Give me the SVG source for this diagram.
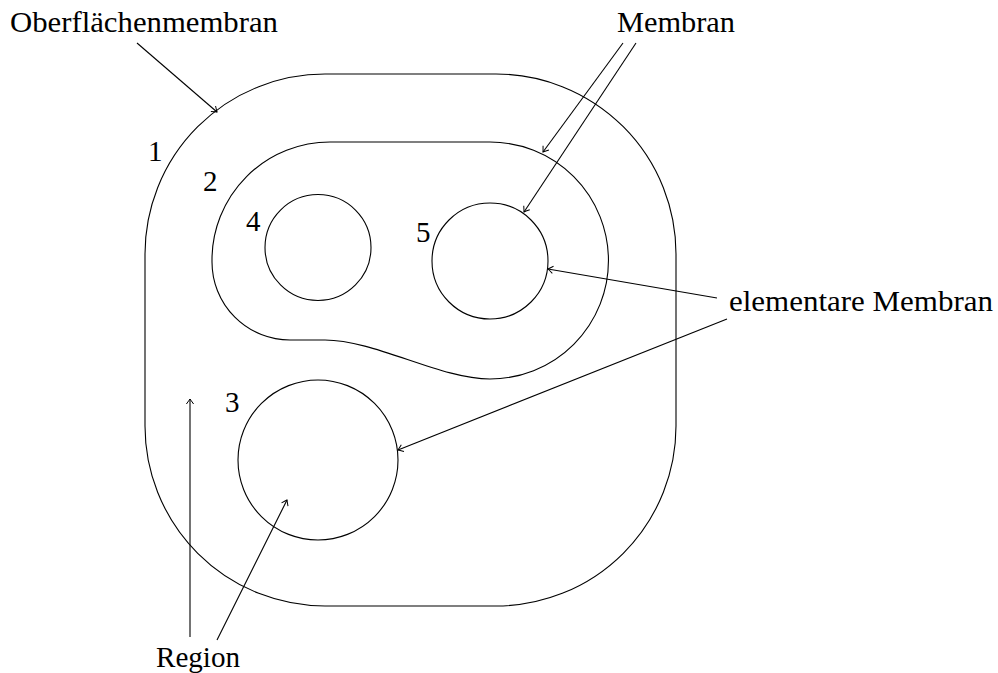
<svg xmlns="http://www.w3.org/2000/svg" width="998" height="673" viewBox="0 0 998 673">
<style>
.m{fill:none;stroke:#000;stroke-width:1.1}
.c{fill:none;stroke:#000;stroke-width:1.1;marker-end:url(#ah)}
text{font-family:"Liberation Serif","DejaVu Serif",serif;font-size:29px;fill:#000}
</style>
<defs>
<marker id="ah" markerUnits="userSpaceOnUse" markerWidth="12" markerHeight="12" viewBox="-8 -6 10 12" refX="0" refY="0" orient="auto">
<path d="M -5 -3.6 Q -1.2 -0.8 0 0 Q -1.2 0.8 -5 3.6" fill="none" stroke="#000" stroke-width="1"/>
</marker>
</defs>
<rect width="998" height="673" fill="#fff"/>
<g id="membrane1"><rect class="m" x="145" y="74" width="531" height="532" rx="180" ry="180"/><text x="148" y="161">1</text></g>
<g id="membrane2"><path class="m" d="M 330 142 L 490 142 A 118.5 118.5 0 0 1 490 379 C 440 379 375 340 325 340 L 290 340 A 78 78 0 0 1 212 262 L 212 260 A 118 118 0 0 1 330 142 Z"/><text x="203" y="191">2</text></g>
<g id="membrane4"><circle class="m" cx="318" cy="247.5" r="53"/><text x="246" y="231">4</text></g>
<g id="membrane5"><circle class="m" cx="490" cy="261" r="58"/><text x="416" y="242">5</text></g>
<g id="membrane3"><circle class="m" cx="318" cy="460" r="80"/><text x="225" y="412">3</text></g>
<g id="labels">
<text x="10" y="32" textLength="268" lengthAdjust="spacingAndGlyphs">Oberflächenmembran</text>
<text x="617" y="32" textLength="118" lengthAdjust="spacingAndGlyphs">Membran</text>
<text x="729" y="311" textLength="264" lengthAdjust="spacingAndGlyphs">elementare Membran</text>
<text x="156" y="667" textLength="84" lengthAdjust="spacingAndGlyphs">Region</text>
</g>
<g id="connectors">
<line class="c" x1="137" y1="43" x2="217" y2="112"/>
<line class="c" x1="623" y1="43" x2="543" y2="152"/>
<line class="c" x1="636" y1="43" x2="524" y2="212"/>
<line class="c" x1="717" y1="298" x2="548" y2="269"/>
<line class="c" x1="727" y1="319" x2="398" y2="450"/>
<line class="c" x1="190" y1="637" x2="190" y2="399"/>
<line class="c" x1="217" y1="640" x2="287" y2="500"/>
</g>
</svg>
